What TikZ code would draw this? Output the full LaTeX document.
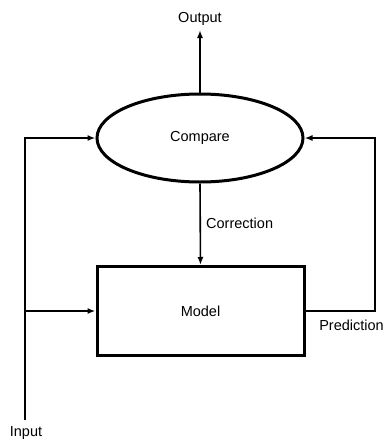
\documentclass[tikz,border=0pt]{standalone}
\usepackage{fontspec}
\setmainfont{Liberation Sans}
\usetikzlibrary{arrows.meta, positioning, shapes.geometric}

\begin{document}
\begin{tikzpicture}[x=1pt, y=-1pt,
    font=\fontsize{14.5}{17}\selectfont,
    ellipsenode/.style={ellipse, draw=black, line width=3pt, minimum width=206pt, minimum height=88pt, inner sep=0pt},
    squarednode/.style={rectangle, draw=black, line width=3pt, minimum width=207pt, minimum height=89pt, inner sep=0pt},
    labelnode/.style={inner sep=0pt},
    flow/.style={line width=1.6pt, -{Latex[length=8pt, width=6pt]}},
    ]
    \useasboundingbox (0,0) rectangle (385,440);

    %Nodes
    \node[ellipsenode]      (compare)    at (200,138)   {Compare};
    \node[squarednode]      (model)      at (200.5,311) {Model};
    \node[labelnode]        (output)     at (200,19)    {Output};
    \node[labelnode]        (input)      at (26,433)    {Input};
    \node[labelnode, anchor=west] (correction) at (206,223) {Correction};
    \node[labelnode, anchor=east] (prediction) at (384,325) {Prediction};
    \coordinate             (outtip)     at (200,30);
    \coordinate             (inbottom)   at (25,420);
    \coordinate             (feedback)   at (375,311);

    %Lines
    \draw[flow] (compare.north) -- (outtip);
    \draw[flow] (compare.south) -- (model.north);
    \draw[flow] (inbottom) |- (compare.west);
    \draw[flow] (inbottom |- model.west) -- (model.west);
    \draw[flow] (model.east) -- (feedback) |- (compare.east);
\end{tikzpicture}
\end{document}
